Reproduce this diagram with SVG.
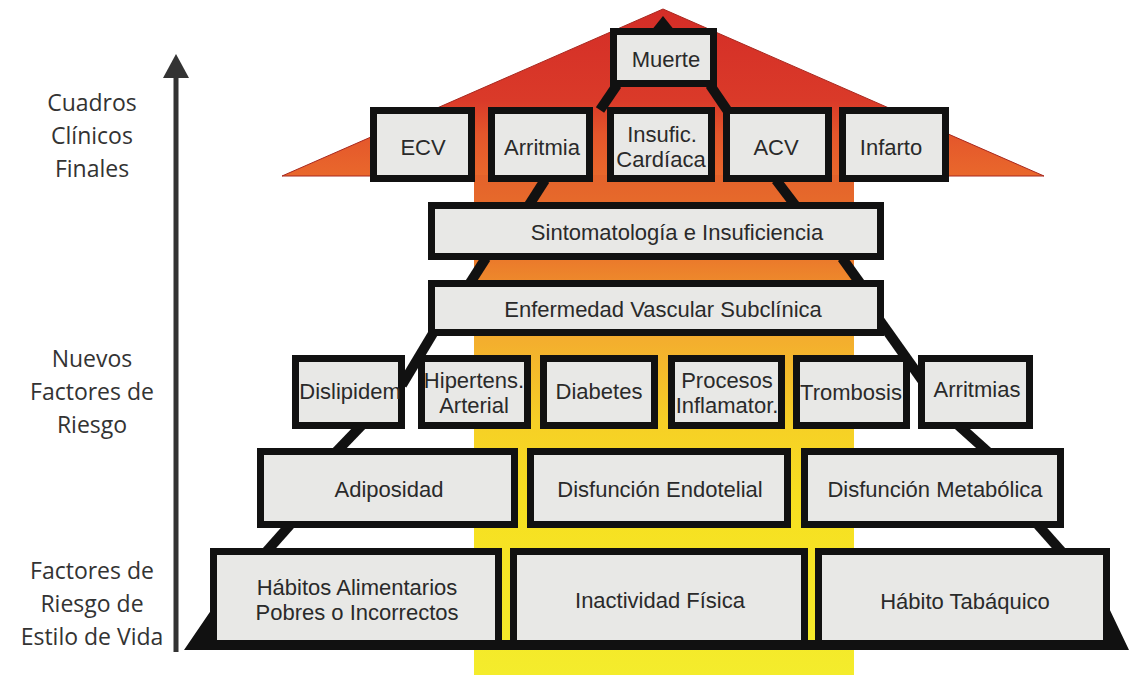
<svg xmlns="http://www.w3.org/2000/svg" width="1130" height="675" viewBox="0 0 1130 675">
<defs>
<linearGradient id="roofGrad" gradientUnits="userSpaceOnUse" x1="0" y1="9" x2="0" y2="176">
<stop offset="0" stop-color="#d42d27"/>
<stop offset="0.55" stop-color="#da3a29"/>
<stop offset="0.75" stop-color="#e4562b"/>
<stop offset="1" stop-color="#e9682c"/>
</linearGradient>
<linearGradient id="colGrad" gradientUnits="userSpaceOnUse" x1="0" y1="175" x2="0" y2="675">
<stop offset="0" stop-color="#e4622b"/>
<stop offset="0.17" stop-color="#eb7a2b"/>
<stop offset="0.25" stop-color="#f0962c"/>
<stop offset="0.33" stop-color="#f3ae2e"/>
<stop offset="0.49" stop-color="#f6cf26"/>
<stop offset="0.65" stop-color="#f7df20"/>
<stop offset="1" stop-color="#f4ec2c"/>
</linearGradient>
</defs>
<style>
.box{fill:#e8e8e6;stroke:#111;stroke-width:7}
.t{font-family:"Liberation Sans",Arial,sans-serif;font-size:22px;fill:#2a2a2a;text-anchor:middle}
.lbl{font-family:"Open Sans","Noto Sans",sans-serif;font-size:23px;fill:#333;text-anchor:middle}
.leg{stroke:#111;stroke-width:10;fill:none}
</style>

<g id="background">
<polygon points="663,9 1044,176 282,176" fill="url(#roofGrad)" stroke="#a8281f" stroke-width="1"/>
<rect x="474" y="175" width="380" height="500" fill="url(#colGrad)"/>
</g>

<g id="axis">
<line x1="176" y1="652" x2="176" y2="75" stroke="#333" stroke-width="5"/>
<polygon points="176,54 163,78 189,78" fill="#333"/>
<text class="lbl" x="92" y="111">Cuadros</text>
<text class="lbl" x="92" y="144">Clínicos</text>
<text class="lbl" x="92" y="177">Finales</text>
<text class="lbl" x="92" y="367">Nuevos</text>
<text class="lbl" x="92" y="400">Factores de</text>
<text class="lbl" x="92" y="433">Riesgo</text>
<text class="lbl" x="92" y="579">Factores de</text>
<text class="lbl" x="92" y="612">Riesgo de</text>
<text class="lbl" x="92" y="645">Estilo de Vida</text>
</g>

<g id="connectors">
<polygon points="663,16 651,31 675,31" fill="#111"/>
<line class="leg" x1="617" y1="85" x2="600" y2="110"/>
<line class="leg" x1="710" y1="85" x2="727" y2="110"/>
<line class="leg" x1="545" y1="180" x2="529" y2="205"/>
<line class="leg" x1="776" y1="180" x2="795" y2="205"/>
<line class="leg" x1="486" y1="258" x2="470" y2="283"/>
<line class="leg" x1="842" y1="258" x2="860" y2="283"/>
<line class="leg" x1="450" y1="305" x2="402" y2="385"/>
<line class="leg" x1="878" y1="318" x2="922" y2="380"/>
<line class="leg" x1="362" y1="425" x2="336" y2="452"/>
<line class="leg" x1="958" y1="425" x2="988" y2="452"/>
<line class="leg" x1="290" y1="525" x2="266" y2="552"/>
<line class="leg" x1="1038" y1="525" x2="1062" y2="552"/>
<polygon points="184,650 214,606 214,640 1108,640 1108,606 1129,650" fill="#111"/>
</g>

<g id="muerte"><rect class="box" x="613.5" y="31.5" width="100" height="52"/><text class="t" x="666" y="67">Muerte</text></g>
<g id="ecv"><rect class="box" x="373.5" y="110.5" width="98" height="68"/><text class="t" x="423" y="155">ECV</text></g>
<g id="arritmia"><rect class="box" x="491.5" y="110.5" width="98" height="68"/><text class="t" x="542" y="155">Arritmia</text></g>
<g id="insuficiencia"><rect class="box" x="610.5" y="110.5" width="101" height="68"/><text class="t" x="662" y="142">Insufic.</text><text class="t" x="661" y="167">Cardíaca</text></g>
<g id="acv"><rect class="box" x="726.5" y="110.5" width="102" height="68"/><text class="t" x="776" y="155">ACV</text></g>
<g id="infarto"><rect class="box" x="842.5" y="110.5" width="103" height="68"/><text class="t" x="891" y="155">Infarto</text></g>

<g id="sintomatologia"><rect class="box" x="431.5" y="205.5" width="449" height="51"/><text class="t" x="677" y="240">Sintomatología e Insuficiencia</text></g>
<g id="enfermedad"><rect class="box" x="431.5" y="283.5" width="449" height="49"/><text class="t" x="663" y="317">Enfermedad Vascular Subclínica</text></g>

<g id="dislipidem"><rect class="box" x="295.5" y="358.5" width="106" height="67"/><text class="t" x="350" y="399">Dislipidem</text></g>
<g id="hipertension"><rect class="box" x="421.5" y="358.5" width="106" height="67"/><text class="t" x="474" y="388">Hipertens.</text><text class="t" x="474" y="413">Arterial</text></g>
<g id="diabetes"><rect class="box" x="543.5" y="358.5" width="111" height="67"/><text class="t" x="599" y="399">Diabetes</text></g>
<g id="procesos"><rect class="box" x="671.5" y="358.5" width="110" height="67"/><text class="t" x="727" y="388">Procesos</text><text class="t" x="727" y="413">Inflamator.</text></g>
<g id="trombosis"><rect class="box" x="796.5" y="358.5" width="110" height="67"/><text class="t" x="851" y="400">Trombosis</text></g>
<g id="arritmias"><rect class="box" x="921.5" y="358.5" width="108" height="67"/><text class="t" x="977" y="397">Arritmias</text></g>

<g id="adiposidad"><rect class="box" x="260.5" y="451.5" width="254" height="73"/><text class="t" x="389" y="497">Adiposidad</text></g>
<g id="endotelial"><rect class="box" x="530.5" y="451.5" width="257" height="73"/><text class="t" x="660" y="497">Disfunción Endotelial</text></g>
<g id="metabolica"><rect class="box" x="804.5" y="451.5" width="256" height="73"/><text class="t" x="935" y="497">Disfunción Metabólica</text></g>

<g id="habitos"><rect class="box" x="213.5" y="551.5" width="285" height="92"/><text class="t" x="357" y="595">Hábitos Alimentarios</text><text class="t" x="357" y="620">Pobres o Incorrectos</text></g>
<g id="inactividad"><rect class="box" x="513.5" y="551.5" width="291" height="92"/><text class="t" x="660" y="608">Inactividad Física</text></g>
<g id="tabaquico"><rect class="box" x="818.5" y="551.5" width="288" height="92"/><text class="t" x="965" y="609">Hábito Tabáquico</text></g>
</svg>
